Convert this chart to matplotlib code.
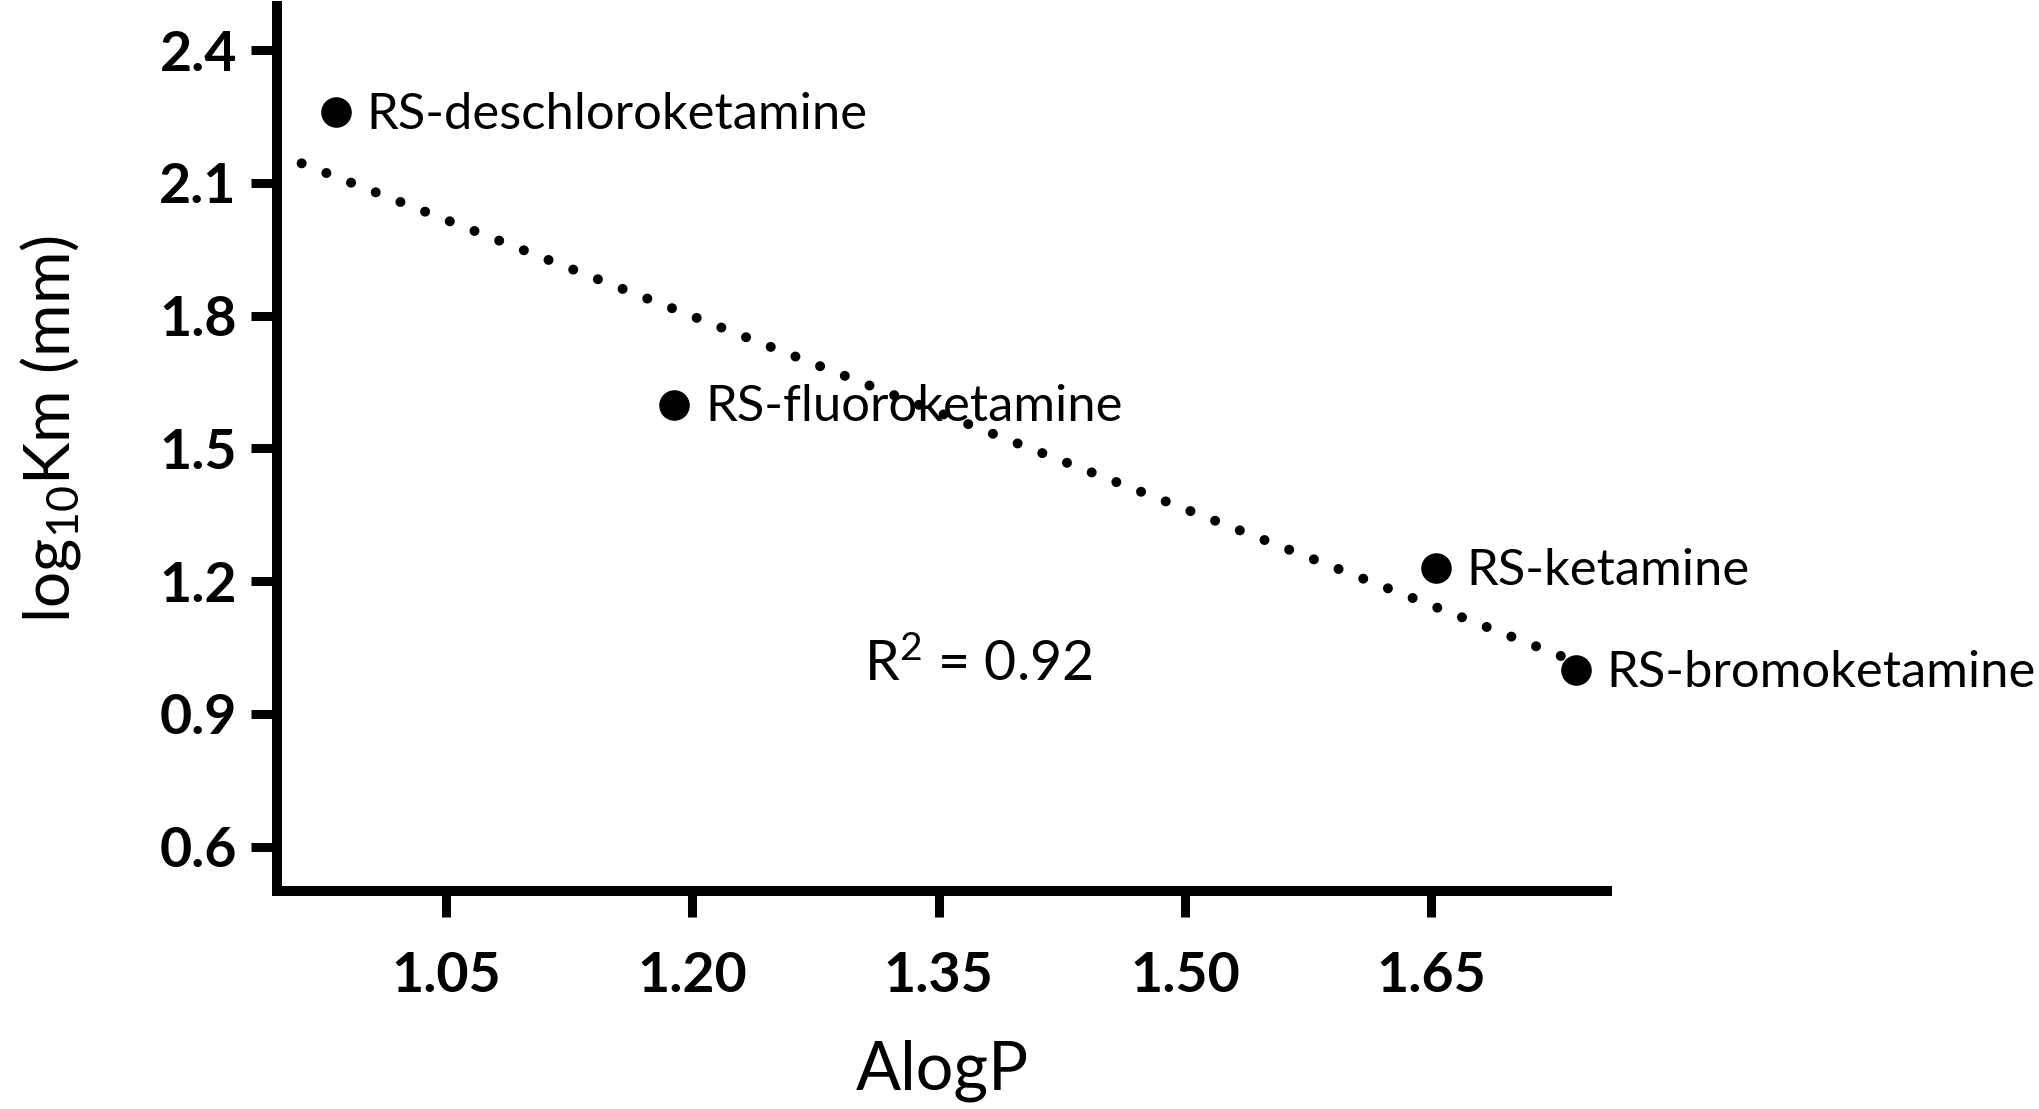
import numpy as np
import matplotlib
matplotlib.use("Agg")
import matplotlib.pyplot as plt

plt.rcParams['font.family'] = ['Lato', 'DejaVu Sans']
plt.rcParams['mathtext.default'] = 'regular'

# Data
compounds = ["RS-deschloroketamine", "RS-fluoroketamine", "RS-ketamine", "RS-bromoketamine"]
alogp = [0.983, 1.189, 1.653, 1.738]
log_km = [2.261, 1.599, 1.229, 0.999]
fit_range = [0.962, 1.738]
r_squared = "0.92"

x_ticks = [1.05, 1.20, 1.35, 1.50, 1.65]
y_ticks = [0.6, 0.9, 1.2, 1.5, 1.8, 2.1, 2.4]

fig = plt.figure(figsize=(20.4, 11.09), dpi=100)
ax = fig.add_axes([0.1358, 0.1966, 0.7877 - 0.1358, 0.9946 - 0.1966])

# linear fit (dotted)
slope, intercept = np.polyfit(alogp, log_km, 1)
fx = np.array(fit_range)
ax.plot(fx, slope * fx + intercept, color='black', linewidth=7.2,
        linestyle=(0, (0.001, 2.65)), dash_capstyle='round', zorder=2)

ax.plot(alogp, log_km, 'o', color='black', markersize=21, zorder=3)

for name, xv, yv in zip(compounds, alogp, log_km):
    ax.annotate(name, (xv, yv), xytext=(22, -2), textcoords='offset points',
                ha='left', va='center', fontsize=36.5)

ax.text(1.374, 1.012, "R$^2$ = " + r_squared, ha='center', va='center', fontsize=40)

ax.set_xlim(0.947, 1.757)
ax.set_ylim(0.5, 2.5)
ax.set_xticks(x_ticks)
ax.set_xticklabels([f"{v:.2f}" for v in x_ticks])
ax.set_yticks(y_ticks)
ax.set_yticklabels([f"{v:.1f}" for v in y_ticks])

for lab in ax.get_xticklabels() + ax.get_yticklabels():
    lab.set_fontweight('bold')
    lab.set_fontsize(40)

ax.tick_params(axis='both', length=19, width=6.5, color='black')
ax.tick_params(axis='x', pad=24)
ax.tick_params(axis='y', pad=10)

ax.spines['top'].set_visible(False)
ax.spines['right'].set_visible(False)
ax.spines['left'].set_linewidth(7.2)
ax.spines['bottom'].set_linewidth(7.2)
ax.spines['left'].set_capstyle('projecting')
ax.spines['bottom'].set_capstyle('projecting')

ax.set_xlabel("AlogP", fontsize=48)
ax.xaxis.set_label_coords(0.5, -0.168)
ax.set_ylabel("log$_{10}$Km (mm)", fontsize=46)
ax.yaxis.set_label_coords(-0.146, 0.522)

fig.savefig("out.png", dpi=100)
